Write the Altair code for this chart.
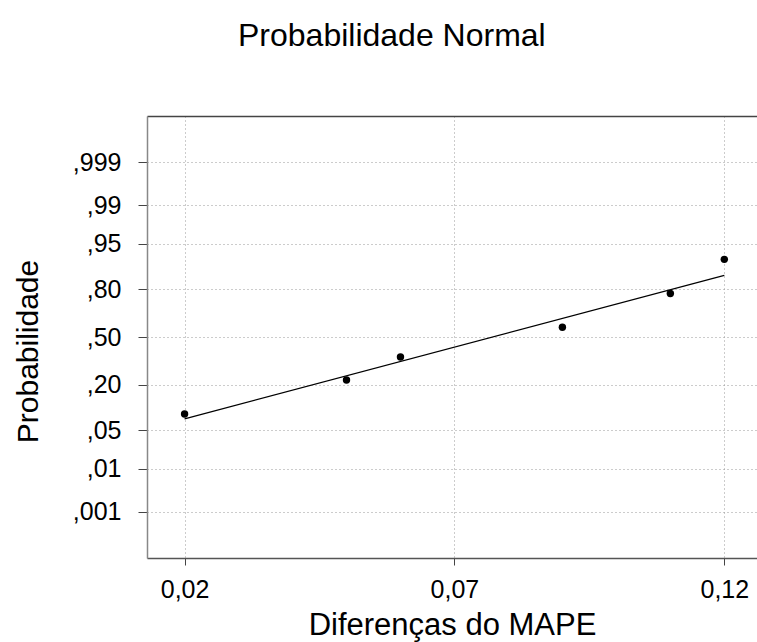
import altair as alt
import pandas as pd
from statistics import NormalDist

# Data
diff_mape = [0.02, 0.05, 0.06, 0.09, 0.11, 0.12]
prob = [0.087, 0.224, 0.362, 0.568, 0.779, 0.915]

fit_x = [0.02, 0.12]
fit_p = [0.074, 0.862]

tick_probs = [0.001, 0.01, 0.05, 0.20, 0.50, 0.80, 0.95, 0.99, 0.999]
x_ticks = [0.02, 0.07, 0.12]

z_ticks = [NormalDist().inv_cdf(p) for p in tick_probs]

pts = pd.DataFrame({"x": diff_mape, "p": prob})
fit = pd.DataFrame({"x": fit_x, "p": fit_p})

FONT = "Liberation Sans"
xscale = alt.Scale(domain=[0.013037, 0.126056], nice=False, zero=False)
yscale = alt.Scale(domain=[-3.905, 3.905], nice=False, zero=False)

y_axis = alt.Axis(
    values=z_ticks,
    labelExpr="replace(format(cumulativeNormal(datum.value), (cumulativeNormal(datum.value) > 0.995 || cumulativeNormal(datum.value) < 0.005) ? '.3f' : '.2f'), '0.', ',')",
    labelFontSize=25, labelFont=FONT, labelColor="black", labelPadding=17,
    tickSize=9, tickColor="#444", tickWidth=1,
    domainColor="#888", domainWidth=1.5,
    grid=True, gridColor="#999", gridDash=[1, 3], gridWidth=1,
    title="Probabilidade", titleFont=FONT, titleFontSize=30, titleFontWeight="normal",
    titleColor="black", titleX=-109.5, titleY=235, titleAngle=-90,
    titleBaseline="alphabetic", titleAlign="center",
)

x_axis = alt.Axis(
    values=x_ticks,
    labelExpr="replace(format(datum.value, '.2f'), '.', ',')",
    labelFontSize=25, labelFont=FONT, labelColor="black", labelPadding=12,
    tickSize=7, tickColor="#444", tickWidth=1,
    domainColor="#555", domainWidth=1.5,
    grid=True, gridColor="#999", gridDash=[1, 3], gridWidth=1,
    title="Diferenças do MAPE", titleFont=FONT, titleFontSize=31, titleFontWeight="normal",
    titleColor="black", titleX=305, titleY=76, titleBaseline="alphabetic", titleAlign="center",
)

top_axis = alt.Axis(
    orient="top", labels=False, ticks=False, grid=False, domain=True,
    domainColor="#444", domainWidth=1.5, title=None,
)

points = alt.Chart(pts).transform_calculate(
    z="quantileNormal(datum.p, 0, 1)"
).mark_circle(size=55, color="black", opacity=1).encode(
    x=alt.X("x:Q", scale=xscale, axis=x_axis),
    y=alt.Y("z:Q", scale=yscale, axis=y_axis),
)

line = alt.Chart(fit).transform_calculate(
    z="quantileNormal(datum.p, 0, 1)"
).mark_line(color="black", strokeWidth=1.1).encode(
    x=alt.X("x:Q", scale=xscale, axis=top_axis),
    y=alt.Y("z:Q", scale=yscale, axis=y_axis),
)

chart = alt.layer(points, line).resolve_axis(x="independent").properties(
    width=610,
    height=442,
    autosize=alt.AutoSizeParams(type="none"),
    padding={"left": 147, "top": 116, "right": 0, "bottom": 84},
    title=alt.TitleParams(
        "Probabilidade Normal", anchor="start", frame="group", dx=91, offset=38,
        baseline="alphabetic", font=FONT, fontSize=32, fontWeight="normal", color="black",
    ),
).configure_view(stroke=None).configure(background="white")

chart.save("out.html", embed_options={"renderer": "svg", "actions": False})
